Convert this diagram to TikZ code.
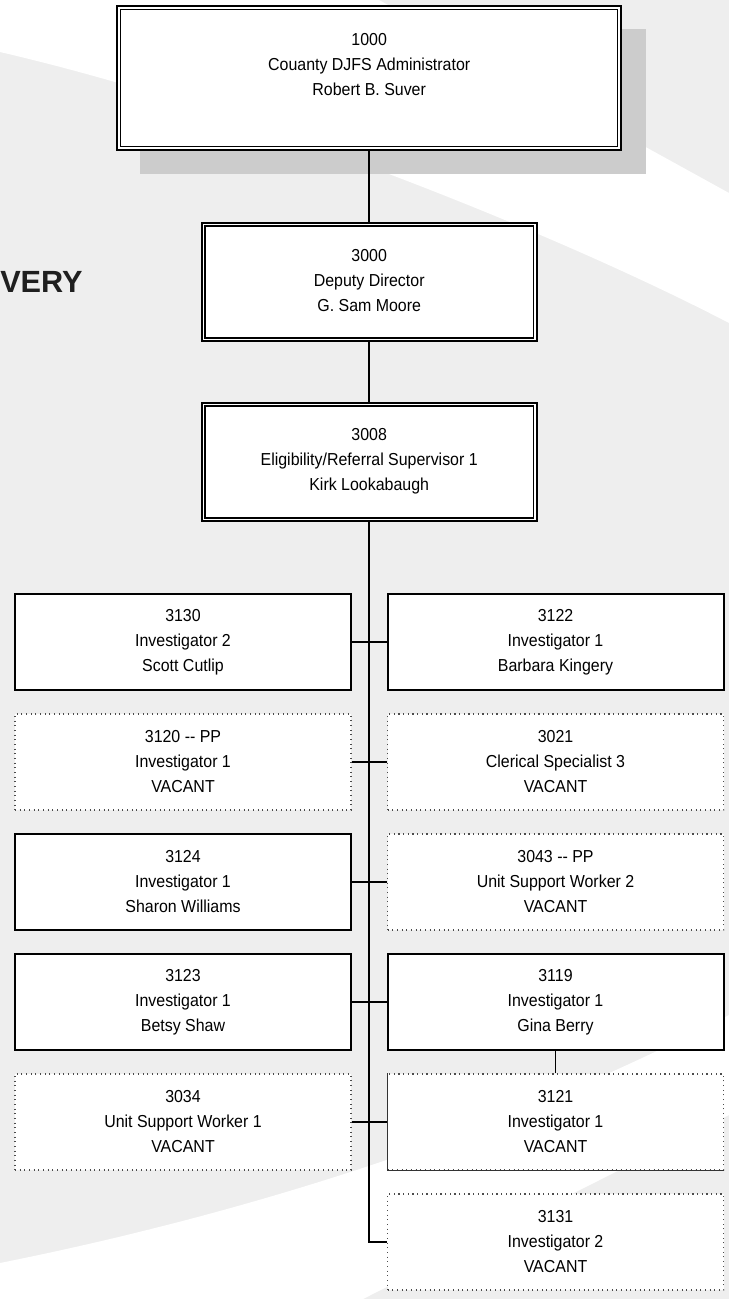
\documentclass[tikz,border=0pt]{standalone}
\usepackage{fontspec}
\setmainfont{Liberation Sans}
\newfontfamily\boxfont{Liberation Sans}[FakeStretch=0.92]
\definecolor{bggray}{HTML}{EEEEEE}
\definecolor{shadowgray}{HTML}{CCCCCC}
\begin{document}
\begin{tikzpicture}[x=0.75pt,y=-0.75pt,
  every node/.style={font=\boxfont\fontsize{13}{18.75}\selectfont, align=center, inner sep=0pt},
  solidbox/.style={draw=black, line width=1.5pt, fill=white, minimum width=252pt, minimum height=72pt},
  vacbox/.style={draw=black!70, line width=0.8pt, dash pattern=on 0.8pt off 2.7pt, fill=white, minimum width=252pt, minimum height=72pt},
  dblbox/.style={draw=black, line width=1.5pt, fill=white},
  innerline/.style={draw=black, line width=1pt},
  link/.style={draw=black, line width=1.2pt}]
% background
\fill[bggray] (0,0) rectangle (729,1299);
\fill[white] (0,0) -- (379,0) -- (729,193) -- (729,323) .. controls (560,235) and (250,110) .. (0,52) -- cycle;
\fill[white] (0,1263) .. controls (240,1215) and (500,1135) .. (729,1015) -- (729,1115) -- (363,1299) -- (0,1299) -- cycle;
\useasboundingbox (0,0) rectangle (729,1299);
% shadow of top box
\fill[shadowgray] (140,29.3) rectangle (646,174.3);
% title fragment
\node[font=\rmfamily\fontsize{23}{27}\selectfont\bfseries, anchor=base west, text=black!88] (title) at (0,292) {VERY};
% top boxes
\node[dblbox, minimum width=378pt, minimum height=107.5pt] (n1000) at (369.2,77.9) {};
\draw[innerline] ([xshift=3.3pt,yshift=-3.3pt]n1000.north west) rectangle ([xshift=-3.3pt,yshift=3.3pt]n1000.south east);
\node (t1000) at (369.2,65) {1000\\Couanty DJFS Administrator\\Robert B. Suver};
\node[dblbox, minimum width=251.5pt, minimum height=89pt] (n3000) at (369.2,282) {};
\draw[innerline] ([xshift=3.3pt,yshift=-3.3pt]n3000.north west) rectangle ([xshift=-3.3pt,yshift=3.3pt]n3000.south east);
\node (t3000) at (369.2,281) {3000\\Deputy Director\\G. Sam Moore};
\node[dblbox, minimum width=251.5pt, minimum height=89pt] (n3008) at (369.2,462) {};
\draw[innerline] ([xshift=3.3pt,yshift=-3.3pt]n3008.north west) rectangle ([xshift=-3.3pt,yshift=3.3pt]n3008.south east);
\node (t3008) at (369.2,461) {3008\\Eligibility/Referral Supervisor 1\\Kirk Lookabaugh};
% left column
\node[solidbox] (l1) at (183,642) {3130\\Investigator 2\\Scott Cutlip};
\node[vacbox] (l2) at (183,762) {3120 -{}- PP\\Investigator 1\\VACANT};
\node[solidbox] (l3) at (183,882) {3124\\Investigator 1\\Sharon Williams};
\node[solidbox] (l4) at (183,1002) {3123\\Investigator 1\\Betsy Shaw};
\node[vacbox] (l5) at (183,1122) {3034\\Unit Support Worker 1\\VACANT};
% right column
\node[solidbox] (r1) at (555.5,642) {3122\\Investigator 1\\Barbara Kingery};
\node[vacbox] (r2) at (555.5,762) {3021\\Clerical Specialist 3\\VACANT};
\node[vacbox] (r3) at (555.5,882) {3043 -{}- PP\\Unit Support Worker 2\\VACANT};
\node[solidbox] (r4) at (555.5,1002) {3119\\Investigator 1\\Gina Berry};
\node[vacbox] (r5) at (555.5,1122) {3121\\Investigator 1\\VACANT};
\node[vacbox] (r6) at (555.5,1242) {3131\\Investigator 2\\VACANT};
\draw[line width=0.5pt, black!80] (r5.north west) -- (r5.south west) -- (r5.south east);
% connectors
\draw[link] (n1000.south) -- (n3000.north);
\draw[link] (n3000.south) -- (n3008.north);
\draw[link] (n3008.south) |- (r6.west);
\draw[link] (l1.east) -- (r1.west);
\draw[link] (l2.east) -- (r2.west);
\draw[link] (l3.east) -- (r3.west);
\draw[link] (l4.east) -- (r4.west);
\draw[link] (l5.east) -- (r5.west);
\draw[link] (r4.south) -- (r5.north);
\end{tikzpicture}
\end{document}
